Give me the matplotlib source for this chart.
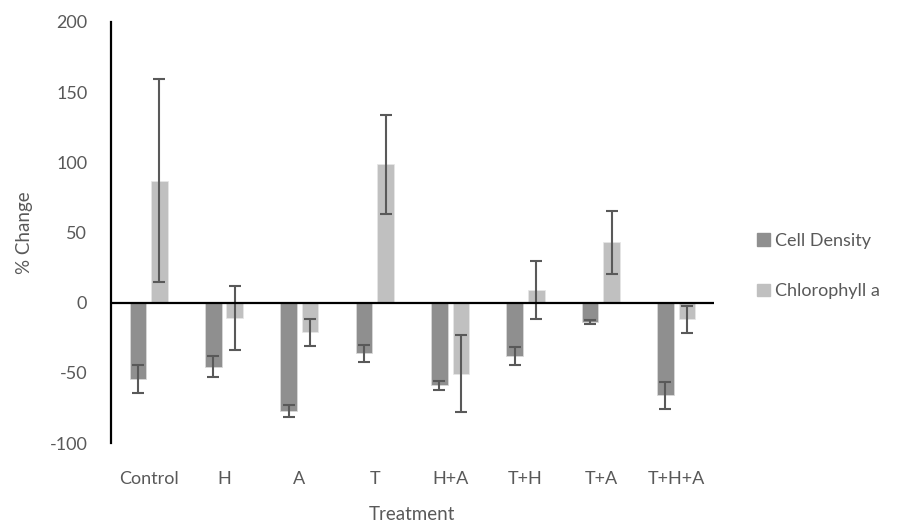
import numpy as np
import matplotlib
matplotlib.use("Agg")
import matplotlib.pyplot as plt
from matplotlib.patches import Patch

plt.rcParams['font.family'] = ['Lato', 'DejaVu Sans']
plt.rcParams['axes.unicode_minus'] = False

# data
treatments = ['Control', 'H', 'A', 'T', 'H+A', 'T+H', 'T+A', 'T+H+A']
cell_density = [-54.5, -45.5, -77, -36, -59, -38, -14, -66]
cell_err = [10, 7.7, 4.2, 6, 3.3, 6.3, 1.3, 9.6]
chlorophyll = [87, -11, -21, 98.5, -50.5, 9, 43, -12]
chl_err = [72, 23, 9.6, 35, 27.7, 20.6, 22.3, 9.8]

text_col = '#595959'
c_cell = '#8f8f8f'
c_chl = '#c0c0c0'

fig = plt.figure(figsize=(9.08, 5.31), dpi=100)
ax = fig.add_axes([0.1222, 0.1657, 0.664, 0.793])

x = np.arange(len(treatments))
w = 0.22
off = 0.143
ax.bar(x - off, cell_density, w, color=c_cell, edgecolor='#d9d9d9', linewidth=0.6, zorder=2)
ax.bar(x + off, chlorophyll, w, color=c_chl, edgecolor='#e6e6e6', linewidth=0.6, zorder=2)
ax.errorbar(x - off, cell_density, yerr=cell_err, fmt='none', ecolor='#595959',
            elinewidth=1.5, capsize=4.5, capthick=1.5, zorder=3)
ax.errorbar(x + off, chlorophyll, yerr=chl_err, fmt='none', ecolor='#595959',
            elinewidth=1.5, capsize=4.5, capthick=1.5, zorder=3)

ax.axhline(0, color='black', lw=1.6, zorder=4)
ax.set_xlim(-0.5, len(treatments) - 0.5)
ax.set_ylim(-100, 200)
ax.set_yticks(np.arange(-100, 201, 50))
ax.set_xticks(x)
ax.set_xticklabels(treatments)
ax.tick_params(axis='both', length=0, labelsize=13, colors=text_col)
ax.tick_params(axis='x', pad=20)
ax.tick_params(axis='y', pad=17)
for s in ['top', 'right', 'bottom']:
    ax.spines[s].set_visible(False)
ax.spines['left'].set_linewidth(1.6)
ax.spines['left'].set_color('black')

ax.set_ylabel('% Change', fontsize=13.5, color=text_col, labelpad=12)
ax.set_xlabel('Treatment', fontsize=13.5, color=text_col, labelpad=14)

handles = [Patch(color=c_cell, label='Cell Density'), Patch(color=c_chl, label='Chlorophyll a')]
leg = ax.legend(handles=handles, loc='center left', bbox_to_anchor=(1.045, 0.42),
                frameon=False, fontsize=13, labelcolor=text_col, handlelength=0.7,
                handleheight=0.7, handletextpad=0.3, labelspacing=1.9)

fig.savefig('out.png', dpi=100)
